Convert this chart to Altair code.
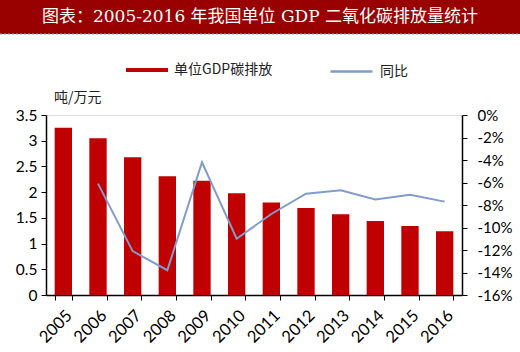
import altair as alt
import pandas as pd

years = ["2005", "2006", "2007", "2008", "2009", "2010", "2011", "2012", "2013", "2014", "2015", "2016"]
intensity = [3.25, 3.05, 2.68, 2.31, 2.22, 1.98, 1.80, 1.69, 1.57, 1.44, 1.34, 1.24]
yoy_years = ["2006", "2007", "2008", "2009", "2010", "2011", "2012", "2013", "2014", "2015", "2016"]
yoy = [-6.1, -12.1, -13.8, -4.2, -11.0, -8.8, -7.0, -6.7, -7.5, -7.1, -7.7]

title_text = "图表：2005-2016 年我国单位 GDP 二氧化碳排放量统计"
unit_text = "吨/万元"
bar_name = "单位GDP碳排放"
line_name = "同比"

bars_df = pd.DataFrame({"year": years, "value": intensity})
line_df = pd.DataFrame({"year": yoy_years, "pct": yoy})
one = pd.DataFrame({"a": [0]})

RED = "#C00000"
BLUE = "#7F9CCB"
LAB_FONT = "Lato"
CJK = "Noto Sans CJK SC"

xenc = alt.X("year:N", sort=years, title=None,
             scale=alt.Scale(paddingInner=0.5, paddingOuter=0.25),
             axis=alt.Axis(labelAngle=-45, labelAlign="right", labelBaseline="top",
                           labelFontSize=16.5, labelFont=LAB_FONT, labelColor="#000",
                           tickBand="extent", tickSize=5, tickColor="#000",
                           domainColor="#000", domainWidth=1.5, labelPadding=7))

bars = alt.Chart(bars_df).mark_bar().encode(
    x=xenc,
    y=alt.Y("value:Q", title=None,
            scale=alt.Scale(domain=[0, 3.5], nice=False),
            axis=alt.Axis(values=[0, 0.5, 1, 1.5, 2, 2.5, 3, 3.5], format="~g",
                          grid=False, labelFontSize=15.5, labelFont=LAB_FONT, labelColor="#000",
                          tickSize=5, tickColor="#000", domainColor="#000", domainWidth=1.5,
                          labelPadding=4)),
    fill=alt.Fill("s:N", scale=alt.Scale(domain=[bar_name], range=[RED]),
                  legend=alt.Legend(title=None, orient="none", legendX=80, legendY=-66,
                                    symbolType="M-1,-0.1L1,-0.1L1,0.1L-1,0.1Z",
                                    symbolSize=1764, symbolStrokeWidth=0,
                                    labelFont=CJK, labelFontSize=14, labelColor="#222",
                                    labelOffset=6, padding=0)),
).transform_calculate(s=f"'{bar_name}'")

line = alt.Chart(line_df).mark_line(strokeWidth=2).encode(
    x=alt.X("year:N", sort=years),
    y=alt.Y("pct:Q", title=None,
            scale=alt.Scale(domain=[-16, 0], nice=False),
            axis=alt.Axis(orient="right", values=list(range(-16, 1, 2)),
                          labelExpr="datum.value + '%'",
                          grid=False, labelFontSize=15, labelFont=LAB_FONT, labelColor="#000",
                          tickSize=5, tickColor="#000", domainColor="#000", domainWidth=1.5,
                          labelPadding=10)),
    stroke=alt.Stroke("s:N", scale=alt.Scale(domain=[line_name], range=[BLUE]),
                      legend=alt.Legend(title=None, orient="none", legendX=283, legendY=-66,
                                        symbolType="stroke", symbolSize=1764,
                                        symbolStrokeWidth=2.5,
                                        labelFont=CJK, labelFontSize=14, labelColor="#222",
                                        labelOffset=6, padding=0)),
).transform_calculate(s=f"'{line_name}'")

title_bg = alt.Chart(one).mark_rect(color="#990000").encode(
    x=alt.value(-46), x2=alt.value(474), y=alt.value(-115), y2=alt.value(-81))
dash = alt.Chart(one).mark_rule(color="#9A9AE0", strokeDash=[2, 2], strokeWidth=1).encode(
    x=alt.value(-46), x2=alt.value(474), y=alt.value(-81))
title = alt.Chart(one).mark_text(text=title_text, color="white", fontSize=17,
                                 font="DejaVu Serif, " + CJK, fontWeight="normal",
                                 align="center", baseline="middle").encode(
    x=alt.value(214), y=alt.value(-98))
unit = alt.Chart(one).mark_text(text=unit_text, color="#222", fontSize=14, font=CJK,
                                align="left", baseline="middle").encode(
    x=alt.value(8), y=alt.value(-17))

chart = alt.layer(bars, line, title_bg, dash, title, unit).resolve_scale(
    y="independent", fill="independent", stroke="independent"
).properties(
    width=416, height=180,
    autosize=alt.AutoSizeParams(type="none"),
    padding={"left": 46, "top": 115, "right": 58, "bottom": 57},
).configure_view(stroke=None).configure(background="white")

chart.save("out.html", embed_options={"renderer": "svg", "actions": False})
